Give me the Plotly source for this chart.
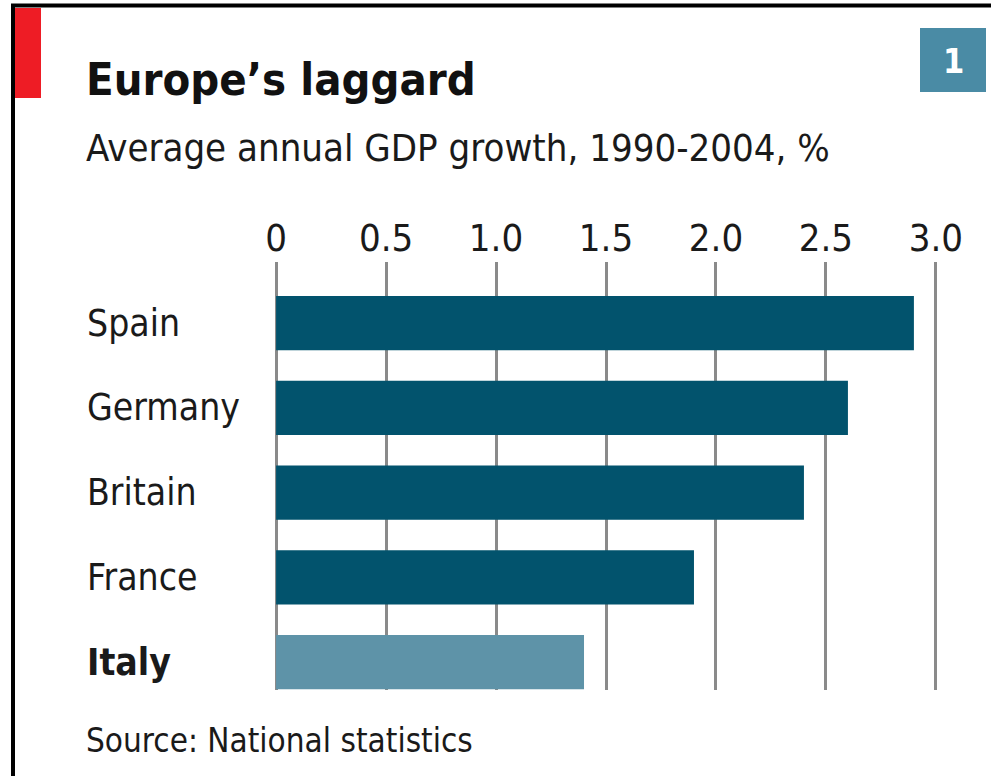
import plotly.graph_objects as go

countries = ["Spain", "Germany", "Britain", "France", "Italy"]
growth = [2.9, 2.6, 2.4, 1.9, 1.4]
bar_colors = ["#02536d", "#02536d", "#02536d", "#02536d", "#5e93a8"]
tick_vals = [0, 0.5, 1.0, 1.5, 2.0, 2.5, 3.0]
tick_text = ["0", "0.5", "1.0", "1.5", "2.0", "2.5", "3.0"]

W, H = 991, 776
L, R, T, B = 275, 54, 262, 86
FONT = "DejaVu Sans Condensed"


def px(x):
    return (x - L) / (W - L - R)


def py(y):
    return (H - B - y) / (H - T - B)


fig = go.Figure()
fig.add_trace(go.Bar(
    x=growth,
    y=countries,
    orientation="h",
    marker=dict(color=bar_colors, line=dict(width=0)),
    width=0.64,
    hoverinfo="x+y",
))

fig.update_xaxes(
    side="top",
    range=[-0.005, 3.005],
    tickvals=tick_vals,
    ticktext=tick_text,
    showgrid=True,
    gridcolor="#8a8a8a",
    gridwidth=3,
    zeroline=False,
    showline=False,
    ticks="",
    ticklabelstandoff=2,
    tickfont=dict(family=FONT, size=38, color="#1a1a1a"),
)
fig.update_yaxes(
    range=[4.33, -0.72],
    showticklabels=False,
    showgrid=False,
    zeroline=False,
)

# country labels, left aligned
for c in countries:
    fig.add_annotation(
        x=px(85), xref="paper", y=c, yref="y",
        text=f"<b>{c}</b>" if c == "Italy" else c,
        showarrow=False, xanchor="left", yanchor="middle",
        font=dict(family=FONT, size=37, color="#1a1a1a"),
    )

# title, subtitle, source
fig.add_annotation(x=px(84), y=py(79), xref="paper", yref="paper",
                   text="<b>Europe’s laggard</b>", showarrow=False,
                   xanchor="left", yanchor="middle",
                   font=dict(family=FONT, size=45, color="#111111"))
fig.add_annotation(x=px(84), y=py(148), xref="paper", yref="paper",
                   text="Average annual GDP growth, 1990-2004, %",
                   showarrow=False, xanchor="left", yanchor="middle",
                   font=dict(family=FONT, size=38, color="#1a1a1a"))
fig.add_annotation(x=px(84), y=py(740), xref="paper", yref="paper",
                   text="Source: National statistics",
                   showarrow=False, xanchor="left", yanchor="middle",
                   font=dict(family=FONT, size=33, color="#1a1a1a"))

# chart number badge
fig.add_shape(type="rect", xref="paper", yref="paper",
              x0=px(920), x1=px(986), y0=py(28), y1=py(92),
              fillcolor="#4a8ba5", line=dict(width=0), layer="below")
fig.add_annotation(x=px(953), y=py(61), xref="paper", yref="paper",
                   text="<b>1</b>", showarrow=False,
                   xanchor="center", yanchor="middle",
                   font=dict(family=FONT, size=34, color="white"))

# frame and red tab
fig.add_shape(type="line", xref="paper", yref="paper",
              x0=px(11), x1=px(991), y0=py(5.5), y1=py(5.5),
              line=dict(color="black", width=4))
fig.add_shape(type="line", xref="paper", yref="paper",
              x0=px(13), x1=px(13), y0=py(4), y1=py(776),
              line=dict(color="black", width=4))
fig.add_shape(type="rect", xref="paper", yref="paper",
              x0=px(15), x1=px(41), y0=py(8), y1=py(98),
              fillcolor="#ee1c25", line=dict(width=0))

fig.update_layout(
    width=W, height=H,
    margin=dict(l=L, r=R, t=T, b=B),
    paper_bgcolor="white",
    plot_bgcolor="white",
    showlegend=False,
    bargap=0.36,
)

fig.write_html("out.html", config={"displayModeBar": False},
               post_script="document.body.style.margin='0';")
